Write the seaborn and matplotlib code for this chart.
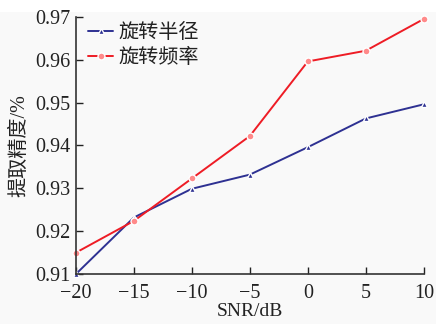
import matplotlib
matplotlib.use("Agg")
import matplotlib.pyplot as plt
import seaborn as sns
import pandas as pd
from matplotlib.patches import Rectangle

snr = [-20, -15, -10, -5, 0, 5, 10]
radius_acc = [0.9100, 0.9232, 0.9299, 0.9332, 0.9396, 0.9463, 0.9496]
freq_acc = [0.9150, 0.9224, 0.9323, 0.9422, 0.9596, 0.9621, 0.9695]
series_names = ["旋转半径", "旋转频率"]
x_ticks = [-20, -15, -10, -5, 0, 5, 10]
y_ticks = [0.91, 0.92, 0.93, 0.94, 0.95, 0.96, 0.97]

df = pd.DataFrame({
    "SNR": snr * 2,
    "acc": radius_acc + freq_acc,
    "series": [series_names[0]] * len(snr) + [series_names[1]] * len(snr),
})

sns.set_style("ticks")
plt.rcParams["font.family"] = ["Liberation Serif", "Noto Sans CJK SC"]
plt.rcParams["axes.unicode_minus"] = True

bg = "#f9f9f9"
fig = plt.figure(figsize=(4.36, 3.24), dpi=100, facecolor=bg)
fig.patches.append(Rectangle((0, 1 - 12 / 324), 1, 12 / 324, transform=fig.transFigure,
                             facecolor="white", edgecolor="none", zorder=-1))
ax = fig.add_axes([0.174, 0.154, 0.798, 0.794])
ax.set_facecolor(bg)

palette = {series_names[0]: "#2e3192", series_names[1]: "#ee1c25"}
markers = {series_names[0]: "^", series_names[1]: "o"}
sns.lineplot(data=df, x="SNR", y="acc", hue="series", style="series",
             palette=palette, markers=markers, dashes=False, ax=ax,
             linewidth=1.4, markersize=5, markeredgewidth=1.0, clip_on=False)

for line in ax.get_lines():
    if line.get_color() == "#ee1c25":
        line.set_markerfacecolor("#ff8a8a")

ax.set_xlim(-20, 10)
ax.set_ylim(0.91, 0.97)
ax.set_xticks(x_ticks)
ax.set_yticks(y_ticks)
ax.set_yticklabels([f"{v:.2f}" for v in y_ticks])
ax.set_xticklabels([f"{v}".replace("-", "\u2212") for v in x_ticks])
ax.tick_params(direction="in", length=5, width=1.0, labelsize=14.5, colors="#222222", pad=4)
ax.tick_params(axis="x", pad=7)
for s in ["top", "right"]:
    ax.spines[s].set_visible(False)
for s in ["left", "bottom"]:
    ax.spines[s].set_linewidth(1.2)
    ax.spines[s].set_color("#333333")

ax.set_xlabel("SNR/dB", fontsize=14, labelpad=0, color="#222222")
ax.set_ylabel("提取精度/%", fontsize=14.5, labelpad=4, color="#222222")

leg = ax.legend(loc="upper left", frameon=False, fontsize=14.5, handlelength=1.25,
                handletextpad=0.25, labelspacing=0.3, borderaxespad=0.2,
                bbox_to_anchor=(0.0, 1.02))
for t in leg.get_texts():
    t.set_color("#222222")

fig.savefig("out.png", dpi=100, facecolor=bg)
